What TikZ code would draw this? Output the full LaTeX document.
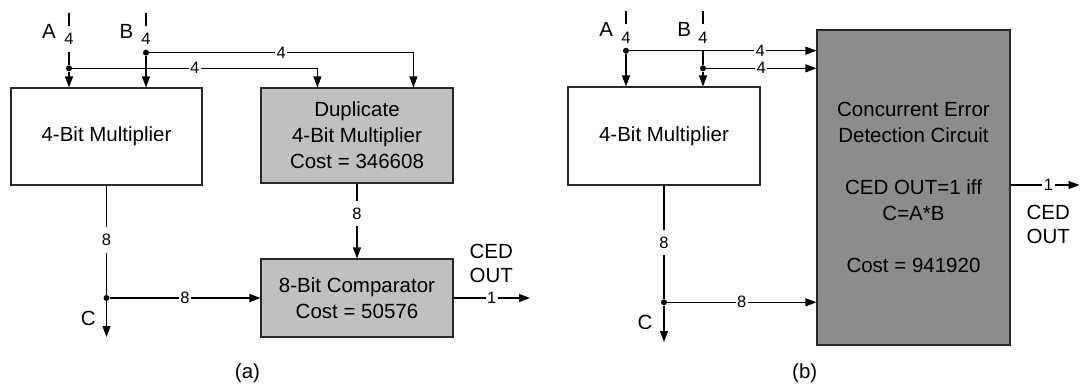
\documentclass[tikz,border=0pt]{standalone}
\usepackage{fontspec}
\setmainfont{Liberation Sans}
\usetikzlibrary{arrows.meta,calc}
\definecolor{lgray}{RGB}{192,192,192}
\definecolor{dgray}{RGB}{140,140,140}
\definecolor{edgec}{RGB}{40,40,40}
\begin{document}
\begin{tikzpicture}[x=1pt,y=-1pt,
  wire/.style={line width=1.15pt, draw=black},
  arr/.style={wire,-{Triangle[length=11pt,width=8pt]}},
  blk/.style={draw=edgec, line width=1.15pt, inner sep=0pt, font=\fontsize{20.5}{26}\selectfont, align=center},
  hlab/.style={fill=white, inner xsep=1.5pt, inner ysep=0pt, font=\fontsize{16.5}{17}\selectfont},
  vlab/.style={fill=white, inner xsep=0pt, inner ysep=7pt, font=\fontsize{16.5}{17}\selectfont},
  tlab/.style={fill=white, inner xsep=0pt, inner ysep=7.5pt, font=\fontsize{16.5}{17}\selectfont},
  big/.style={font=\fontsize{20.5}{24}\selectfont, inner sep=0pt, align=center},
  jdot/.style={circle, fill=black, inner sep=0pt, minimum size=6pt},
]
\useasboundingbox (0,0) rectangle (1080,384);

% ---------------- (a) ----------------
\node[blk, minimum width=191pt, minimum height=97pt] (m1) at (106.5,136.5) {4-Bit Multiplier};
\node[blk, fill=lgray, minimum width=192pt, minimum height=95pt] (dup) at (357,135.5) {Duplicate\\4-Bit Multiplier\\Cost = 346608};
\node[blk, fill=lgray, minimum width=192pt, minimum height=78pt] (cmp) at (357,298) {8-Bit Comparator\\Cost = 50576};

\node[big] (A1) at (49,31.5) {A};
\node[big] (B1) at (126.5,31.5) {B};
\coordinate (A1t) at (69,13);
\coordinate (B1t) at (146,13);
\node[tlab] (A1n) at (69,39) {4};
\node[tlab] (B1n) at (146,39) {4};
\node[jdot] (A1d) at (69,68.3) {};
\node[jdot] (B1d) at (146,52.7) {};
\coordinate (dupA) at ($(dup.north west)+(57,0)$);
\coordinate (dupB) at ($(dup.north west)+(153,0)$);

\draw[wire] (A1t) -- (A1n) -- (A1d);
\draw[arr] (A1d) -- (A1d |- m1.north);
\draw[wire] (B1t) -- (B1n) -- (B1d);
\draw[arr] (B1d) -- (B1d |- m1.north);
\draw[arr] (A1d) -| node[hlab, pos=0.25]{4} (dupA);
\draw[arr] (B1d) -| node[hlab, pos=0.25]{4} (dupB);

\node[jdot] (C1d) at (m1.south |- cmp.west) {};
\coordinate (C1e) at ($(C1d)+(0,39)$);
\draw[wire] (m1.south) -- node[vlab]{8} (C1d);
\draw[arr] (C1d) -- (C1e);
\node[big] (C1) at (88.3,318.3) {C};
\draw[arr] (C1d) -- node[hlab]{8} (cmp.west);
\draw[arr] (dup.south) -- node[vlab, pos=0.4]{8} (cmp.north);
\coordinate (O1) at (530,298);
\draw[arr] (cmp.east) -- node[hlab]{1} (O1);
\node[big] (CO1) at (491.3,263.3) {CED\\OUT};
\node[big] (capa) at (247.5,373) {(a)};

% ---------------- (b) ----------------
\node[blk, minimum width=192pt, minimum height=98pt] (m2) at (664,136) {4-Bit Multiplier};
\node[blk, fill=dgray, minimum width=193pt, minimum height=315pt] (ced) at (913.5,187.5) {Concurrent Error\\Detection Circuit\\\mbox{}\\CED OUT=1 iff\\C=A*B\\\mbox{}\\Cost = 941920};

\node[big] (A2) at (606.3,29.5) {A};
\node[big] (B2) at (684.3,29.5) {B};
\coordinate (A2t) at (626,11);
\coordinate (B2t) at (703,11);
\node[tlab] (A2n) at (626,37.5) {4};
\node[tlab] (B2n) at (703,37.5) {4};
\node[jdot] (A2d) at (626,50.7) {};
\node[jdot] (B2d) at (703,68.3) {};

\draw[wire] (A2t) -- (A2n) -- (A2d);
\draw[arr] (A2d) -- (A2d |- m2.north);
\draw[arr] (A2d) -- node[hlab, pos=0.7]{4} (A2d -| ced.west);
\draw[wire] (B2t) -- (B2n) -- (B2d);
\draw[arr] (B2d) -- (B2d |- m2.north);
\draw[arr] (B2d) -- node[hlab]{4} (B2d -| ced.west);

\node[jdot] (C2d) at (664,302.3) {};
\coordinate (C2e) at (664,342);
\draw[wire] (m2.south) -- node[vlab]{8} (C2d);
\draw[arr] (C2d) -- (C2e);
\node[big] (C2) at (645,322) {C};
\draw[arr] (C2d) -- node[hlab]{8} (C2d -| ced.west);
\coordinate (O2) at (1079.5,185);
\draw[arr] (ced.east |- O2) -- node[hlab, pos=0.55]{1} (O2);
\node[big] (CO2) at (1048.3,224) {CED\\OUT};
\node[big] (capb) at (804.7,373) {(b)};
\end{tikzpicture}
\end{document}
